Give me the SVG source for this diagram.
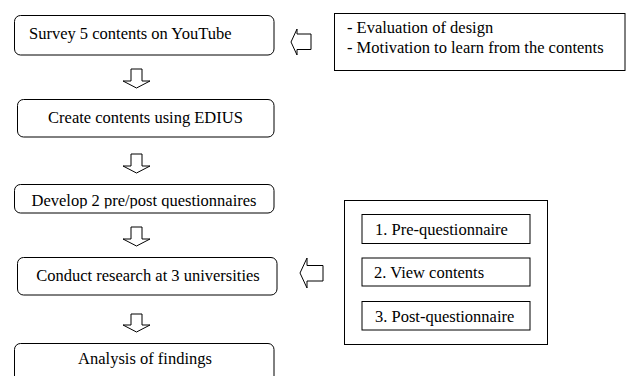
<svg xmlns="http://www.w3.org/2000/svg" width="627" height="376" viewBox="0 0 627 376">
<style>
.box{fill:#fff;stroke:#000;stroke-width:1}
.arr{fill:#fff;stroke:#000;stroke-width:1;stroke-linejoin:miter}
text{font-family:"Liberation Serif","Times New Roman",serif;font-size:16.5px;fill:#000}
.c{text-anchor:middle}
</style>
<defs>
<clipPath id="clip3"><rect x="14" y="184" width="260" height="24.5"/></clipPath>
</defs>
<rect width="627" height="376" fill="#fff"/>
<g id="survey">
<rect class="box" x="14.5" y="15.5" width="259.5" height="39.5" rx="6"/>
<text x="29" y="39">Survey 5 contents on YouTube</text>
</g>
<g id="create">
<rect class="box" x="17.5" y="99.5" width="256.5" height="37.5" rx="6"/>
<text class="c" x="145.5" y="123">Create contents using EDIUS</text>
</g>
<g id="develop">
<rect class="box" x="14.5" y="184.5" width="259.5" height="28.5" rx="6"/>
<text class="c" x="144" y="206" clip-path="url(#clip3)">Develop 2 pre/post questionnaires</text>
</g>
<g id="conduct">
<rect class="box" x="17.5" y="257.5" width="259.5" height="37.5" rx="6"/>
<text class="c" x="148" y="281">Conduct research at 3 universities</text>
</g>
<g id="analysis">
<rect class="box" x="14.5" y="343.5" width="259.5" height="45" rx="6"/>
<text class="c" x="145" y="364">Analysis of findings</text>
</g>
<g id="criteria">
<rect class="box" x="334.5" y="13.5" width="290.5" height="57"/>
<text x="347" y="33">- Evaluation of design</text>
<text x="347" y="53">- Motivation to learn from the contents</text>
</g>
<g id="procedure">
<rect class="box" x="344.5" y="200.5" width="203" height="144"/>
<g id="step1">
<rect class="box" x="362" y="214.5" width="168" height="29"/>
<text x="375" y="235">1. Pre-questionnaire</text>
</g>
<g id="step2">
<rect class="box" x="362" y="258" width="168" height="28"/>
<text x="374" y="278">2. View contents</text>
</g>
<g id="step3">
<rect class="box" x="362" y="301.5" width="168" height="28.5"/>
<text x="375" y="322">3. Post-questionnaire</text>
</g>
</g>
<g id="connectors">
<polygon class="arr" points="131,69 142,69 142,81 150,81 136.5,88 123,81 131,81"/>
<polygon class="arr" points="131,154 142,154 142,166 150,166 136.5,173 123,166 131,166"/>
<polygon class="arr" points="131,227 142,227 142,239 150,239 136.5,246 123,239 131,239"/>
<polygon class="arr" points="131,314 142,314 142,325 150,325 136.5,332 123,325 131,325"/>
<polygon class="arr" points="311,34 297,34 297,29 291,42 297,55 297,49.5 311,49.5"/>
<polygon class="arr" points="323,265.5 307,265.5 307,258 300,273 307,288 307,281 323,281"/>
</g>
</svg>
